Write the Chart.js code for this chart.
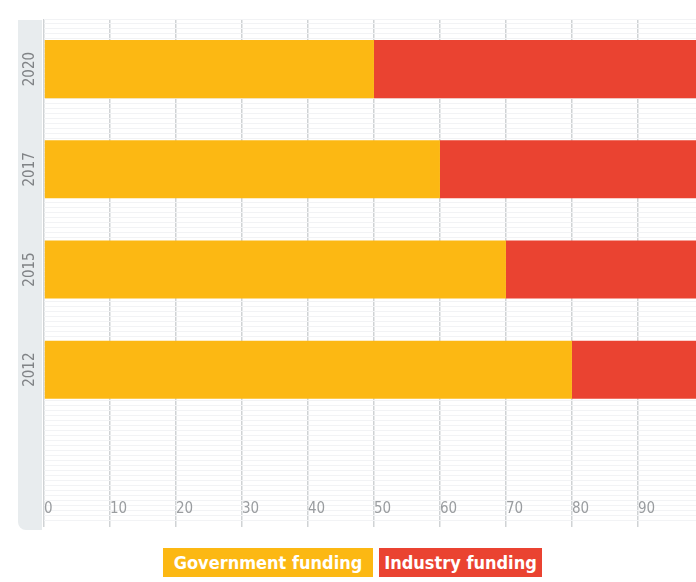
<!DOCTYPE html>
<html>
<head>
<meta charset="utf-8">
<script src="https://cdn.jsdelivr.net/npm/chart.js@4"></script>
<style>
  html, body { margin: 0; padding: 0; background: #ffffff; }
  #wrap { position: relative; width: 696px; height: 582px; overflow: hidden; }
  #chart { display: block; }
  #legend { position: absolute; left: 0; top: 548px; width: 696px; text-align: left; }
  .item { position: absolute; top: 0; height: 29px; line-height: 29px; color: #fff; font-family: "DejaVu Sans Condensed", "DejaVu Sans", sans-serif; font-weight: bold; font-size: 18px; text-align: center; }
</style>
</head>
<body>
<div id="wrap">
  <canvas id="chart" width="696" height="540"></canvas>
  <div id="legend"></div>
</div>
<script>
const years = ["2020", "2017", "2015", "2012", ""];
const government = [50, 60, 70, 80, null];
const industry = [50, 40, 30, 20, null];
const xTicks = [0, 10, 20, 30, 40, 50, 60, 70, 80, 90];
const seriesNames = ["Government funding", "Industry funding"];
const seriesColors = ["#FCB813", "#EA4331"];

// grey strip behind the rotated year labels
const stripPlugin = {
    id: "strip",
    beforeDraw(chart) {
        const ctx = chart.ctx;
        ctx.save();
        ctx.fillStyle = "#e8ecee";
        ctx.beginPath();
        ctx.roundRect(18, 20, 24, 510, [0, 0, 0, 8]);
        ctx.fill();
        ctx.restore();
    },
    afterDraw(chart) {
        const ctx = chart.ctx;
        const y = chart.scales.y;
        ctx.save();
        ctx.fillStyle = "#808386";
        ctx.font = "15px 'DejaVu Sans Condensed', 'DejaVu Sans', sans-serif";
        ctx.textAlign = "center";
        ctx.textBaseline = "middle";
        years.forEach((yr, i) => {
            if (!yr) return;
            ctx.save();
            ctx.translate(30, y.getPixelForValue(i));
            ctx.rotate(-Math.PI / 2);
            ctx.fillText(yr, 0, 0);
            ctx.restore();
        });
        ctx.restore();
    }
};

new Chart(document.getElementById("chart"), {
    type: "bar",
    data: {
        labels: years,
        datasets: [
            { label: seriesNames[0], data: government, backgroundColor: seriesColors[0], borderWidth: 0, barPercentage: 0.58, categoryPercentage: 1 },
            { label: seriesNames[1], data: industry, backgroundColor: seriesColors[1], borderWidth: 0, barPercentage: 0.58, categoryPercentage: 1 }
        ]
    },
    options: {
        indexAxis: "y",
        responsive: false,
        animation: false,
        layout: { padding: { left: 18, top: 19, right: 0, bottom: 20 } },
        plugins: { legend: { display: false }, tooltip: { enabled: false } },
        scales: {
            x: {
                stacked: true,
                min: 0,
                max: 98.8,
                afterBuildTicks(scale) {
                    scale.ticks = xTicks.map(v => ({ value: v }));
                },
                grid: { color: "#d0d3d5", lineWidth: 1.5, tickLength: 7, drawTicks: true },
                border: { display: false },
                ticks: {
                    align: "start",
                    padding: -27,
                    color: "#9a9da0",
                    font: { family: "'DejaVu Sans Condensed', 'DejaVu Sans', sans-serif", size: 15 }
                }
            },
            y: {
                stacked: true,
                position: "left",
                grid: { display: false },
                border: { display: false },
                ticks: { display: false },
                afterFit(scale) { scale.width = 26; }
            },
            yMinor: {
                type: "linear",
                position: "left",
                min: 0,
                max: 100,
                afterBuildTicks(scale) {
                    const t = [];
                    for (let v = 0; v <= 100; v += 1) t.push({ value: v });
                    scale.ticks = t;
                },
                grid: { color: "#f2f3f5", lineWidth: 1, drawTicks: false },
                border: { display: false },
                ticks: { display: false },
                afterFit(scale) { scale.width = 0; }
            }
        }
    },
    plugins: [stripPlugin]
});

// legend boxes with white text on the series colour
const legend = document.getElementById("legend");
const boxes = [{ left: 163, width: 210 }, { left: 379, width: 163 }];
seriesNames.forEach((name, i) => {
    const d = document.createElement("div");
    d.className = "item";
    d.style.left = boxes[i].left + "px";
    d.style.width = boxes[i].width + "px";
    d.style.background = seriesColors[i];
    d.textContent = name;
    legend.appendChild(d);
});
</script>
</body>
</html>
